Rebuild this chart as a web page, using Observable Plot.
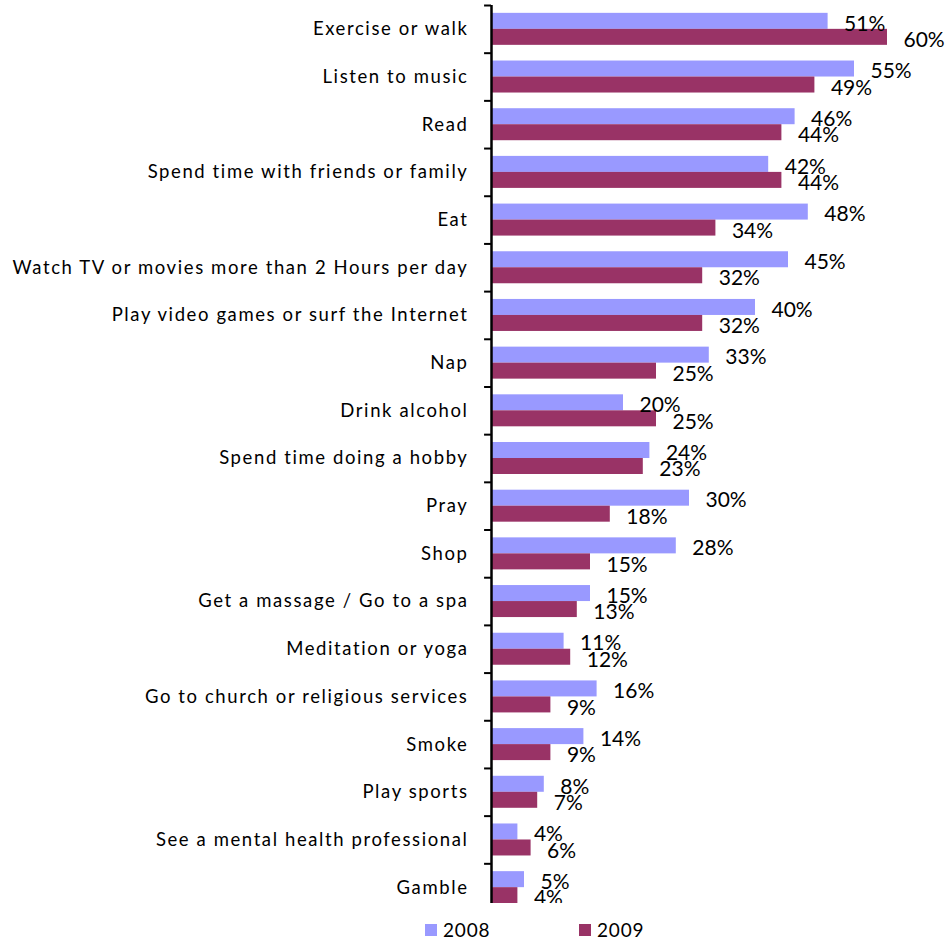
<!DOCTYPE html>
<html>
<head>
<meta charset="utf-8">
<script src="https://cdn.jsdelivr.net/npm/d3@7"></script>
<script src="https://cdn.jsdelivr.net/npm/@observablehq/plot@0.6"></script>
<style>
  html, body { margin: 0; padding: 0; background: #fff; }
  body { width: 951px; height: 946px; overflow: hidden; font-family: Lato, "Open Sans", sans-serif; }
  #clip { width: 951px; height: 903px; overflow: hidden; }
  #clip g[aria-label="y-axis tick label"] text { letter-spacing: 1.6px; }
  #legend { position: relative; height: 43px; font-family: Lato, sans-serif; font-size: 19px; color: #000; }
  .item { position: absolute; top: 17px; display: flex; align-items: center; line-height: 20px; }
  .sw { width: 12px; height: 12px; margin-right: 6px; }
</style>
</head>
<body>
<div id="clip"></div>
<div id="legend"></div>
<script>
const categories = [
  "Exercise or walk",
  "Listen to music",
  "Read",
  "Spend time with friends or family",
  "Eat",
  "Watch TV or movies more than 2 Hours per day",
  "Play video games or surf the Internet",
  "Nap",
  "Drink alcohol",
  "Spend time doing a hobby",
  "Pray",
  "Shop",
  "Get a massage / Go to a spa",
  "Meditation or yoga",
  "Go to church or religious services",
  "Smoke",
  "Play sports",
  "See a mental health professional",
  "Gamble"
];
const values2008 = [51, 55, 46, 42, 48, 45, 40, 33, 20, 24, 30, 28, 15, 11, 16, 14, 8, 4, 5];
const values2009 = [60, 49, 44, 44, 34, 32, 32, 25, 25, 23, 18, 15, 13, 12, 9, 9, 7, 6, 4];
const years = ["2008", "2009"];
const colors = ["#9999FF", "#993366"];

const d2008 = categories.map((c, i) => ({category: c, value: values2008[i], year: years[0]}));
const d2009 = categories.map((c, i) => ({category: c, value: values2009[i], year: years[1]}));

const H = 911, MT = 5;
const step = (H - MT) / categories.length;
const half = step / 2;
const barH = 16;

const chart = Plot.plot({
  width: 951,
  height: H,
  marginTop: MT,
  marginBottom: 0,
  marginLeft: 491,
  marginRight: 64,
  style: {fontFamily: "Lato, sans-serif", background: "#fff", overflow: "visible"},
  x: {domain: [0, 60], axis: null, round: false},
  y: {domain: categories, padding: 0, round: false, axis: null},
  marks: [
    Plot.barX(d2008, {x: "value", y: "category", fill: colors[0], insetTop: half - barH, insetBottom: half}),
    Plot.barX(d2009, {x: "value", y: "category", fill: colors[1], insetTop: half, insetBottom: half - barH}),
    Plot.text(d2008, {x: "value", y: "category", text: d => d.value + "%", dx: 16, dy: -5.5, textAnchor: "start", fontSize: 21, fill: "#000"}),
    Plot.text(d2009, {x: "value", y: "category", text: d => d.value + "%", dx: 16, dy: 11, textAnchor: "start", fontSize: 21, fill: "#000"}),
    Plot.ruleX([0], {stroke: "#000", strokeWidth: 2.5}),
    Plot.ruleY(categories, {y: d => d, x1: -1.05, x2: 0, dy: -half, stroke: "#000", strokeWidth: 2}),
    Plot.axisY({tickSize: 0, tickPadding: 23, fontSize: 18.5, textAnchor: "end", fill: "#000", label: null})
  ]
});
document.getElementById("clip").appendChild(chart);

const legend = document.getElementById("legend");
const legendX = [425, 579];
years.forEach((y, i) => {
  const item = document.createElement("div");
  item.className = "item";
  item.style.left = legendX[i] + "px";
  const sw = document.createElement("div");
  sw.className = "sw";
  sw.style.background = colors[i];
  const t = document.createElement("span");
  t.textContent = y;
  t.style.letterSpacing = "0.8px";
  item.appendChild(sw);
  item.appendChild(t);
  legend.appendChild(item);
});
</script>
</body>
</html>
